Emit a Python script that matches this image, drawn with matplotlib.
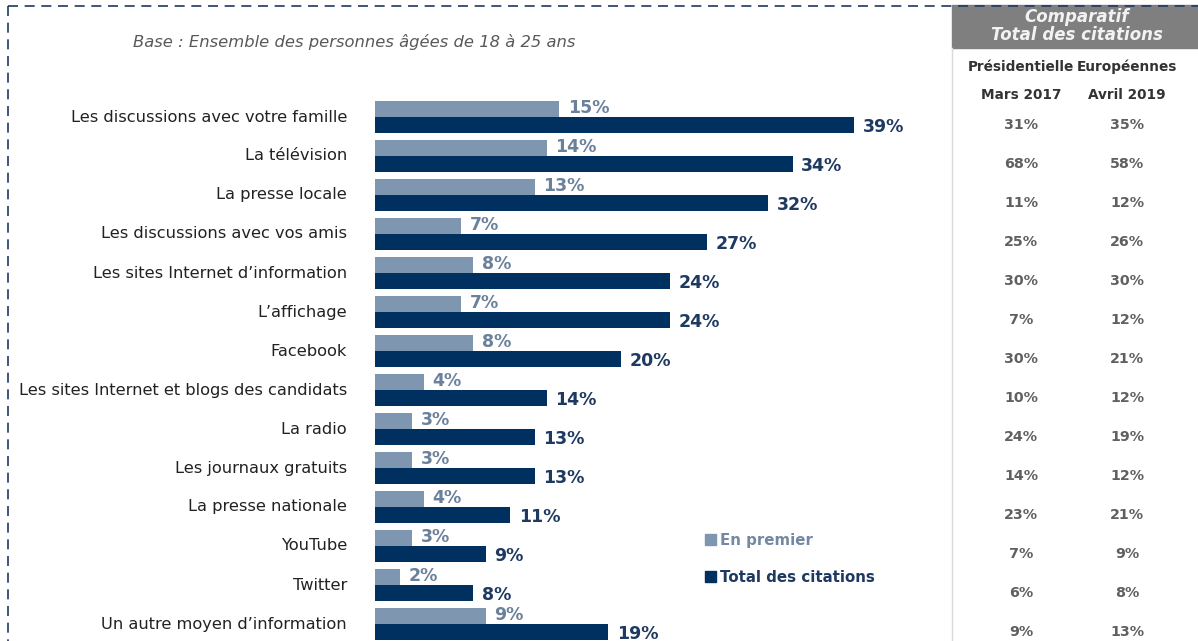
import matplotlib.pyplot as plt
import matplotlib.transforms as mtransforms
from matplotlib.patches import Rectangle
from matplotlib.lines import Line2D

W, H = 1198, 641

categories = [
    "Les discussions avec votre famille",
    "La télévision",
    "La presse locale",
    "Les discussions avec vos amis",
    "Les sites Internet d\u2019information",
    "L\u2019affichage",
    "Facebook",
    "Les sites Internet et blogs des candidats",
    "La radio",
    "Les journaux gratuits",
    "La presse nationale",
    "YouTube",
    "Twitter",
    "Un autre moyen d\u2019information",
]
en_premier = [15, 14, 13, 7, 8, 7, 8, 4, 3, 3, 4, 3, 2, 9]
total_citations = [39, 34, 32, 27, 24, 24, 20, 14, 13, 13, 11, 9, 8, 19]
presidentielle_2017 = [31, 68, 11, 25, 30, 7, 30, 10, 24, 14, 23, 7, 6, 9]
europeennes_2019 = [35, 58, 12, 26, 30, 12, 21, 12, 19, 12, 21, 9, 8, 13]

LIGHT = '#7f96b0'
LIGHT_TXT = '#6b819b'
DARK = '#00305f'
DARK_TXT = '#1f3a60'

plt.rcParams['font.family'] = ['DejaVu Sans']

fig = plt.figure(figsize=(W / 100, H / 100), dpi=100)


def fx(px):
    return px / W


def fy(py):
    return 1 - py / H


# bar axes: x from 375px, 12.28 px per percent; row centres at 117 + 39*i
ax_l, ax_r, ax_t, ax_b = 375, 940, 80, 641
ax = fig.add_axes([fx(ax_l), fy(ax_b), fx(ax_r - ax_l), (ax_b - ax_t) / H])
ax.set_xlim(0, (ax_r - ax_l) / 12.28)
ax.set_ylim((ax_b - 117) / 39, (ax_t - 117) / 39)
ax.axis('off')

h = 16 / 39
ypos = list(range(len(categories)))
ax.barh([y - h / 2 for y in ypos], en_premier, height=h, color=LIGHT)
ax.barh([y + h / 2 for y in ypos], total_citations, height=h, color=DARK)

for y, a, b in zip(ypos, en_premier, total_citations):
    ax.text(a + 0.7, y - h / 2 - 0.02, f"{a}%", color=LIGHT_TXT, fontsize=12.5,
            fontweight='bold', va='center', ha='left')
    ax.text(b + 0.7, y + h / 2 + 0.04, f"{b}%", color=DARK_TXT, fontsize=12.5,
            fontweight='bold', va='center', ha='left')

# category labels (figure x, data y)
lab_tr = mtransforms.blended_transform_factory(fig.transFigure, ax.transData)
for y, c in zip(ypos, categories):
    fig.text(fx(347), y, c, transform=lab_tr, ha='right', va='center',
             fontsize=11.7, color='#222222')

# comparison table
for y, p, e in zip(ypos, presidentielle_2017, europeennes_2019):
    fig.text(fx(1021), y + 8 / 39, f"{p}%", transform=lab_tr, ha='center',
             va='center', fontsize=10.3, fontweight='bold', color='#606060')
    fig.text(fx(1127), y + 8 / 39, f"{e}%", transform=lab_tr, ha='center',
             va='center', fontsize=10.3, fontweight='bold', color='#606060')

fig.patches.append(Rectangle((fx(952), fy(48)), fx(W - 952), (48 - 5) / H,
                             transform=fig.transFigure, color='#7f7f7f'))
fig.text(fx(1077), fy(26), "Comparatif\nTotal des citations", ha='center',
         va='center', fontsize=12, color='#f2f2f2', fontweight='bold',
         style='italic', linespacing=1.0)
fig.lines.append(Line2D([fx(952), fx(952)], [fy(48), 0], transform=fig.transFigure,
                        color='#d9d9d9', lw=1))
for x, top, bottom in [(1021, "Présidentielle", "Mars 2017"),
                       (1127, "Européennes", "Avril 2019")]:
    fig.text(fx(x), fy(67), top, ha='center', va='center',
             fontsize=9.8, fontweight='bold', color='#333333')
    fig.text(fx(x), fy(95), bottom, ha='center', va='center',
             fontsize=9.8, fontweight='bold', color='#333333')

# legend
fig.patches.append(Rectangle((fx(705), fy(545)), fx(11), 11 / H,
                             transform=fig.transFigure, color=LIGHT))
fig.text(fx(720), fy(540), "En premier", ha='left', va='center', fontsize=10.8,
         fontweight='bold', color='#7389a3')
fig.patches.append(Rectangle((fx(705), fy(582)), fx(11), 11 / H,
                             transform=fig.transFigure, color=DARK))
fig.text(fx(720), fy(577), "Total des citations", ha='left', va='center',
         fontsize=10.8, fontweight='bold', color=DARK_TXT)

# base note
fig.text(fx(133), fy(42), "Base : Ensemble des personnes âgées de 18 à 25 ans",
         ha='left', va='center', fontsize=11.8, style='italic', color='#595959')

# dashed frame
fig.lines.append(Line2D([fx(8), fx(8)], [fy(6), 0], transform=fig.transFigure,
                        color='#1f3864', lw=1.2, ls=(0, (6, 4))))
fig.lines.append(Line2D([fx(8), fx(1198)], [fy(6), fy(6)], transform=fig.transFigure,
                        color='#1f3864', lw=1.2, ls=(0, (6, 4))))

fig.savefig('out.png', dpi=100)
